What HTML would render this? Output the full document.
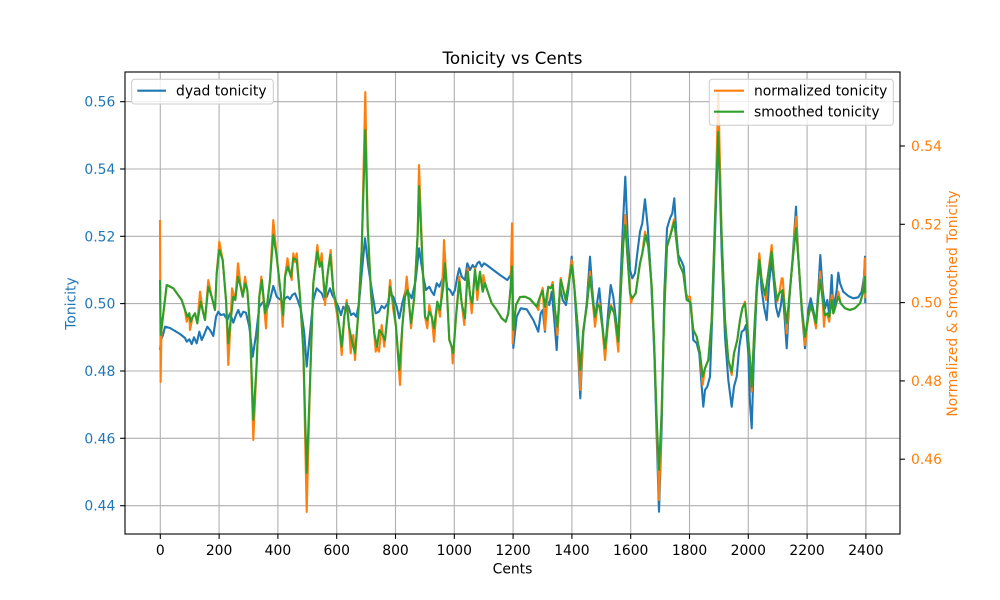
<!DOCTYPE html>
<html><head><meta charset="utf-8"><style>
html,body{margin:0;padding:0;background:#fff;}
svg{display:block;font-family:"DejaVu Sans","Liberation Sans",sans-serif;}
</style></head><body>
<svg width="1000" height="600" viewBox="0 0 1000 600" xmlns="http://www.w3.org/2000/svg">
<rect width="1000" height="600" fill="#fff"/>
<g stroke="#b0b0b0" stroke-width="1.1" fill="none">
<line x1="160.3" y1="72" x2="160.3" y2="534"/><line x1="219.1" y1="72" x2="219.1" y2="534"/><line x1="277.9" y1="72" x2="277.9" y2="534"/><line x1="336.7" y1="72" x2="336.7" y2="534"/><line x1="395.5" y1="72" x2="395.5" y2="534"/><line x1="454.3" y1="72" x2="454.3" y2="534"/><line x1="513.1" y1="72" x2="513.1" y2="534"/><line x1="571.9" y1="72" x2="571.9" y2="534"/><line x1="630.7" y1="72" x2="630.7" y2="534"/><line x1="689.5" y1="72" x2="689.5" y2="534"/><line x1="748.3" y1="72" x2="748.3" y2="534"/><line x1="807.1" y1="72" x2="807.1" y2="534"/><line x1="865.9" y1="72" x2="865.9" y2="534"/>
<line x1="125" y1="101.7" x2="900" y2="101.7"/><line x1="125" y1="169" x2="900" y2="169"/><line x1="125" y1="236.3" x2="900" y2="236.3"/><line x1="125" y1="303.6" x2="900" y2="303.6"/><line x1="125" y1="371" x2="900" y2="371"/><line x1="125" y1="438.3" x2="900" y2="438.3"/><line x1="125" y1="505.7" x2="900" y2="505.7"/>
</g>
<polyline fill="none" stroke="#1f77b4" stroke-width="2.1" stroke-linejoin="round" points="160,350 161,340 163,335 165,326.7 170,328 175,331 180,334 185,338 186.7,341.7 189.3,339.3 191.7,344 194,337.3 196.7,343.3 199.3,331.7 201.7,340 204,335 207.3,326.7 210,330 213.3,336 216,316.7 218.3,311.7 220.7,315 224,314.3 227.3,320 230,313.3 233.3,322.7 236,315 238.3,310 240.7,316.7 243.3,311.7 246,312.7 249.3,326.7 252.7,356.7 256,335 259.3,306.7 263.3,301.7 266.7,310 270,300 273.3,286 276.7,296.7 280.7,300 283.3,303.3 285,298.3 287.7,296.7 290,299.3 292.3,295 295,293.3 297.7,300 301,310 304.3,333.3 306.7,366.7 310,333.3 313.3,300 316.7,288.3 319,290.7 321.7,293.3 324.3,300 326.7,296.7 330,288.3 332.3,295 335,300 338.3,306.7 341,315 343.3,306.7 345.7,310 348.3,306 351,315 353.7,313.3 356.3,316.7 359,303.3 361.7,273.3 365,238.3 368.3,266.7 372.3,293.3 375.7,313.3 379,311.7 381.7,306 384.3,308.3 387.7,303.3 390,293.3 393.3,296.7 396.7,306.7 399.3,318.3 402.3,303.3 405.7,290 409,293.3 411.7,298.3 415.7,280 419,248.3 423.3,276.7 426,290 429.3,286.7 431.7,291.7 434,295 436.7,283.3 439.3,286.7 442.7,278.3 445,266.7 447.3,288.3 450,290 452.7,295 455,290 457.3,276.7 459.3,268.3 461.7,276.7 465,280 467.3,263.3 470,270 472.7,265 475,268.3 477.3,263.3 479.3,261.7 481.7,266.7 484,263.3 486.7,265 493.3,270 500,275 507.3,280 510.7,275 512.3,250 513.3,348 516.7,316.7 520.7,308.3 526.7,309.3 533.3,320 538.3,331.7 540.7,313.3 542.7,310 545,331.7 546.7,300 549.3,305 551.7,291.7 554,316.7 556.7,350 560,286.7 562.7,300 566,305 568.3,290 571.7,256.7 574.3,286.7 577.7,343.3 580.3,398.3 583.3,333.3 586.7,303.3 590,256.7 592.3,290 595,320 597,303.3 599.3,288.3 601.7,316.7 605,353.3 608.3,310 610.7,285 613.3,296.7 616,320 618.3,340 621,270 623.3,216.7 625.3,176.7 627.7,236.7 630,270 632.3,278.3 635,273.3 637.7,250 640,231.7 642.3,223.3 645,199.3 647.7,226.7 651,276.7 654.3,353.3 656.7,436.7 659,511.7 661.7,426.7 664.3,293.3 667,228.3 670,218.3 672.3,213.3 674.3,198.3 676.3,233.3 678.3,255 681.7,261.7 683.7,266.7 686,293.3 688.3,300 691,303.3 693.3,340 696.7,343.3 699.3,353.3 701.7,386.7 703.3,406.7 705,390 707.3,386.7 710,376.7 713.3,286.7 716,203.3 718.3,130 721.7,253.3 725,336.7 728.3,380 731.7,406.7 734,386.7 736.7,376.7 739.3,346.7 741.7,331.7 744,330 746,325 748.3,353.3 750,403.3 751.7,428.3 754,353.3 756.7,293.3 759.3,260 761.7,290 764,306.7 766.7,320 769,283.3 771.7,260 774,283.3 776,306.7 778.3,316.7 780.7,306.7 782.7,290 785,323.3 786.7,348.3 789.3,300 792.7,256.7 796,206.7 798.3,256.7 801.7,310 805,348.3 808.3,310 810.7,298.3 813.3,310 816,323.3 818.3,290 820.3,255 822.7,290 825,308.3 827.3,300 829.3,315 831.7,275 833.3,311.7 835,300 836.7,290 838.3,272.7 840,283.3 843.3,291.7 848.3,296 853.3,298.3 858.3,297.3 861.7,291.7 864,276.7 865,256.7 865.3,303.3"/>
<g stroke="#000" stroke-width="1.1">
<line x1="120.1" y1="101.7" x2="125" y2="101.7"/><line x1="120.1" y1="169" x2="125" y2="169"/><line x1="120.1" y1="236.3" x2="125" y2="236.3"/><line x1="120.1" y1="303.6" x2="125" y2="303.6"/><line x1="120.1" y1="371" x2="125" y2="371"/><line x1="120.1" y1="438.3" x2="125" y2="438.3"/><line x1="120.1" y1="505.7" x2="125" y2="505.7"/>
<line x1="160.3" y1="534" x2="160.3" y2="538.9"/><line x1="219.1" y1="534" x2="219.1" y2="538.9"/><line x1="277.9" y1="534" x2="277.9" y2="538.9"/><line x1="336.7" y1="534" x2="336.7" y2="538.9"/><line x1="395.5" y1="534" x2="395.5" y2="538.9"/><line x1="454.3" y1="534" x2="454.3" y2="538.9"/><line x1="513.1" y1="534" x2="513.1" y2="538.9"/><line x1="571.9" y1="534" x2="571.9" y2="538.9"/><line x1="630.7" y1="534" x2="630.7" y2="538.9"/><line x1="689.5" y1="534" x2="689.5" y2="538.9"/><line x1="748.3" y1="534" x2="748.3" y2="538.9"/><line x1="807.1" y1="534" x2="807.1" y2="538.9"/><line x1="865.9" y1="534" x2="865.9" y2="538.9"/>
<line x1="900" y1="146" x2="904.9" y2="146"/><line x1="900" y1="224.3" x2="904.9" y2="224.3"/><line x1="900" y1="302.6" x2="904.9" y2="302.6"/><line x1="900" y1="380.9" x2="904.9" y2="380.9"/><line x1="900" y1="459.2" x2="904.9" y2="459.2"/>
</g>
<g font-size="13.9" fill="#1f77b4" text-anchor="end">
<text x="115.3" y="106.7">0.56</text><text x="115.3" y="174">0.54</text><text x="115.3" y="241.3">0.52</text><text x="115.3" y="308.6">0.50</text><text x="115.3" y="376">0.48</text><text x="115.3" y="443.3">0.46</text><text x="115.3" y="510.7">0.44</text>
</g>
<g font-size="13.9" fill="#000" text-anchor="middle">
<text x="160.3" y="555">0</text><text x="219.1" y="555">200</text><text x="277.9" y="555">400</text><text x="336.7" y="555">600</text><text x="395.5" y="555">800</text><text x="454.3" y="555">1000</text><text x="513.1" y="555">1200</text><text x="571.9" y="555">1400</text><text x="630.7" y="555">1600</text><text x="689.5" y="555">1800</text><text x="748.3" y="555">2000</text><text x="807.1" y="555">2200</text><text x="865.9" y="555">2400</text>
<text x="512.5" y="573.5">Cents</text>
<text x="512.5" y="64" font-size="16.7">Tonicity vs Cents</text>
</g>
<text font-size="13.9" fill="#1f77b4" text-anchor="middle" transform="translate(75.5,303.5) rotate(-90)">Tonicity</text>
<g font-size="13.9" fill="#ff7f0e">
<text x="911" y="151">0.54</text><text x="911" y="229.3">0.52</text><text x="911" y="307.6">0.50</text><text x="911" y="385.9">0.48</text><text x="911" y="464.2">0.46</text>
</g>
<text font-size="13.9" fill="#ff7f0e" text-anchor="middle" transform="translate(957,303.5) rotate(-90)">Normalized &amp; Smoothed Tonicity</text>
<polyline fill="none" stroke="#ff7f0e" stroke-width="2.1" stroke-linejoin="round" points="160,220 160.6,382 161.5,330 166.7,285 173.3,288.3 181.7,300 185,310 186.7,321.7 189.3,313.3 190,330 192.7,316.7 195,313.3 197.3,323.3 200,291.7 203.3,313.3 205,320 208.3,280 211.7,296.7 215,310 216.7,273.3 219.3,241.7 222.7,260 226,300 228.3,365 230.7,320 232,288.3 235.3,300 238,263.3 240.7,286.7 242.7,296.7 245,276.7 247.3,290 250,326.7 253.3,440 256.7,363.3 259.3,296.7 261.3,276.7 263.5,300 266,328.3 267.3,303.3 270,280 273.3,220 276.7,256.7 280.7,293.3 282.7,326.7 285,276.7 287.5,258.3 290,273 291.7,280 293.3,253.3 295,262 296.7,253.3 300,296.7 303.3,350 306.7,512 310,383.3 313.3,283.3 317.3,245 319.7,266.7 321.7,253.3 325,305 327.7,273.3 330.7,250 333.3,290 335.7,306.7 339.3,326.7 341.7,355 344.3,316.7 346.7,300 349,326.7 350.7,353.3 352,340 353.3,335 355,360 358.3,313.3 361.7,250 365.3,92 367.7,226.7 371,293.3 374.3,333.3 375.7,351.7 377,346.7 379,351.7 381.7,325 384.3,346.7 387.7,313.3 390,280 393.3,310 396,326.7 400,385 402.3,326.7 405,296.7 406.7,276.7 408.5,295 411,328.3 414.3,296.7 417.7,233.3 419,165 422.7,266.7 425,316.7 427.3,328.3 429.3,305 431.7,316.7 434,341.7 437.3,301.7 440,316.7 443,270 444,240 445.5,265 446.7,286.7 449.3,340 451.7,346.7 452.7,363.3 453.5,353 456,316.7 459.3,276.7 461.7,303.3 464.3,325 467.7,268.3 470,295 471.7,313.3 475,268.3 477.3,300 480,273.3 482.7,291.7 483.3,275 485,283.3 488.3,293.3 491.7,303.3 496.7,310 501.7,318.3 505.7,321.7 508.3,313.3 510.7,286.7 512,223.3 512.7,343.3 513.5,330 516,305 520,297 525,296.7 530,299 536.7,306.7 538.3,310 540,296.7 542.7,288 545,330 548.3,286.7 550.7,288.3 552.7,282 555,310 557.3,335 560.7,278 563.3,290 565.7,300 568.5,283 571.7,260 574.3,286.7 577.7,326.7 580.3,390 583.3,330 586.7,306.7 590,271.7 592.3,296.7 595,326.7 597.7,305 599.3,303.3 602.3,326.7 605,360 608.3,320 611,305 614.3,313.3 618.3,351.7 621,286.7 623.3,243.3 625.3,215 627.7,260 631,303.3 632.3,298.3 635.7,293.3 640,263.3 642.3,253.3 645,231.7 648.3,246.7 651.7,286.7 654.3,346.7 656.7,420 659,500 661.7,410 664.3,310 667,246.7 670,236.7 674,219.3 676.3,240 679,263.3 683.3,273.3 686.7,300 688.3,296.7 690,296.7 693.3,330 696.7,336.7 700,353.3 702.7,385 705,368.3 708.3,360 711.7,320 715,220 718.3,93 721.7,236.7 725,320 728.3,360 731.7,375 734,353.3 737.3,340 740,320 742.3,308.3 745,301.7 747.3,326.7 750,360 751.7,391.7 754,336.7 756.7,286.7 759.3,253.3 761.7,280 765,295 766,300 767.3,280 771.7,245 774,276.7 777.3,301.7 779.3,293.3 781.7,278.3 782.7,278.3 785,310 786.7,333.3 789.3,296.7 792.7,260 796,216.7 798.7,263.3 801.7,306.7 805,345 808.3,316.7 810.7,306.7 813.3,313.3 816,328.3 818.3,296.7 820.3,271.7 822.7,300 824,326.7 825,315 827.3,315 829.3,321.7 831.7,295 833.3,313.3 835,308.3 836.7,301.7 838.3,291.7 840.7,303.3 845,308.3 850,310 855,308.3 860,303.3 863.3,291.7 865,258.3 865.3,298.3"/>
<polyline fill="none" stroke="#2ca02c" stroke-width="2.1" stroke-linejoin="round" points="160,280 160.7,335 166.7,285 173.3,288.3 181.7,300 185,310 187.3,316.7 189.3,313.3 190.7,321.7 192.7,316.7 195,313.3 197.3,323.3 200.7,301.7 203.3,313.3 205,320 208.3,286.7 211.7,296.7 215,310 216.7,273.3 219.3,250 222.7,260 226,300 228.3,343.3 230.7,320 233.3,296.7 235.3,300 238,276.7 240.7,286.7 242.7,296.7 245.3,283.3 247.3,290 250,326.7 253.3,420 256.7,363.3 259.3,296.7 262,280 265,313.3 267.3,303.3 270,280 273.3,235 276.7,256.7 280.7,293.3 283.3,315 285,276.7 287.7,266.7 291,276.7 293.3,258.3 296.7,260 300,296.7 303.3,350 306.7,473 310,383.3 313.3,283.3 317.3,251.7 319.7,266.7 321.7,261.7 325,296.7 327.7,273.3 330.3,255 333.3,290 336.7,306.7 339.3,326.7 341.7,346.7 344.3,316.7 346.7,303.3 349,326.7 351.7,340 355,353.3 358.3,313.3 361.7,250 365.3,130 367.7,226.7 371,293.3 374.3,333.3 377,346.7 379.3,330 381.7,333.3 385,340 387.7,313.3 390,286.7 393.3,301.7 396,326.7 399.3,370 402.3,326.7 405,296.7 407.7,290 411,323.3 414.3,296.7 417.7,233.3 419,186 422.7,266.7 425,316.7 427.3,320 429.3,311.7 431.7,316.7 434,328.3 437.3,301.7 440,310 443.3,286.7 445,263.3 446.7,286.7 449.3,340 451.7,346.7 453.3,353.3 456,316.7 459.3,281.7 461.7,303.3 465,318.3 467.7,271.7 470,295 472.3,303.3 475,270 477.3,290 480,271.7 482.7,291.7 485,283.3 488.3,293.3 491.7,303.3 496.7,310 501.7,318.3 505.7,321.7 508.3,313.3 510.7,286.7 512,266.7 513.3,330 516,305 520,297 525,296.7 530,299 536.7,306.7 540,296.7 542.7,290.7 545,306.7 548.3,286.7 550.7,288.3 552.7,285 555,310 557.3,326.7 560.7,280 563.3,290 565.7,300 568.5,285 571.7,265 574.3,286.7 577.7,326.7 580.3,370 583.3,330 586.7,306.7 590,276.7 592.3,296.7 595,316.7 597.7,305 599.7,306.7 602.3,326.7 605,348.3 608.3,320 611,306.7 614.3,313.3 618.3,341.7 621,286.7 623.3,243.3 625.3,225 627.7,260 630,293.3 632.3,298.3 635.7,293.3 640,263.3 642.3,253.3 645.7,235 648.3,246.7 651.7,286.7 654.3,346.7 656.7,420 659,470 661.7,410 664.3,310 667,246.7 670,236.7 674.3,221.7 676.3,240 679,263.3 683.3,273.3 686.7,300 690,302 693.3,330 696.7,336.7 700,353.3 702.7,376.7 705,368.3 708.3,360 711.7,320 715,220 718.3,132 721.7,236.7 725,320 728.3,360 731.7,371.7 734,353.3 737.3,340 740,320 742.3,308.3 745,303.3 747.3,326.7 750,360 751.7,386.7 754,336.7 756.7,286.7 759.3,260 761.7,280 765,295 767.3,280 771.7,251.7 774,276.7 776.7,300 779.3,293.3 782.7,290 785,310 786.7,323.3 789.3,296.7 792.7,260 796,228.3 798.7,263.3 801.7,306.7 805,336.7 808.3,316.7 810.7,305 813.3,313.3 816,323.3 818.3,296.7 820.3,280 822.7,300 825,315 827.3,313.3 829.3,316.7 831.7,300 833.3,313.3 835,308.3 836.7,301.7 838.3,296.7 840.7,303.3 845,308.3 850,310 855,308.3 860,303.3 863.3,291.7 865,276.7 865.3,293.3"/>
<rect x="131.7" y="79.3" width="141.6" height="24.7" rx="2.8" fill="#fff" fill-opacity="0.8" stroke="#cccccc" stroke-width="1"/>
<line x1="137.3" y1="90.7" x2="166" y2="90.7" stroke="#1f77b4" stroke-width="2.1"/>
<text x="176" y="95.7" font-size="13.9" fill="#000">dyad tonicity</text>
<rect x="709.3" y="79.3" width="184" height="46" rx="2.8" fill="#fff" fill-opacity="0.8" stroke="#cccccc" stroke-width="1"/>
<line x1="714" y1="90.7" x2="744" y2="90.7" stroke="#ff7f0e" stroke-width="2.1"/>
<line x1="714" y1="111.7" x2="744" y2="111.7" stroke="#2ca02c" stroke-width="2.1"/>
<text x="754" y="95.7" font-size="13.9" fill="#000">normalized tonicity</text>
<text x="754" y="116.7" font-size="13.9" fill="#000">smoothed tonicity</text>
<rect x="125" y="72" width="775" height="462" fill="none" stroke="#000" stroke-width="1.1"/>
</svg>
</body></html>
